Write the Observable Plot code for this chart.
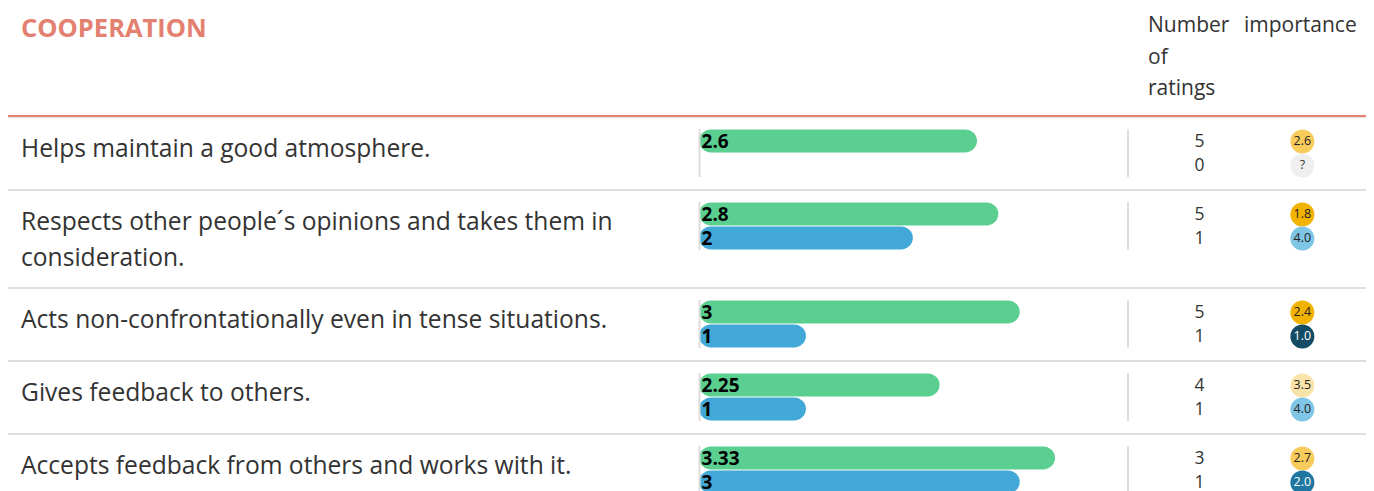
<!DOCTYPE html>
<html>
<head>
<meta charset="utf-8">
<script src="https://cdn.jsdelivr.net/npm/d3@7"></script>
<script src="https://cdn.jsdelivr.net/npm/@observablehq/plot@0.6"></script>
<style>
  body { margin: 8px; font-family: "Open Sans", "Noto Sans", sans-serif; color: #333; background: #fff; }
  #wrap { width: 1360px; }
  .header { display: flex; height: 107px; border-bottom: 2px solid #ea8070; box-sizing: content-box; }
  .title { width: 1119px; padding-left: 13px; padding-top: 2px; font-size: 25.5px; font-weight: 700; color: #e3806f; }
  .hn { width: 80px; padding-left: 8px; padding-right: 8px; font-size: 21px; line-height: 31.5px; padding-top: 1px; }
  .hi { padding-left: 8px; font-size: 21px; line-height: 31.5px; padding-top: 1px; }
  #rows { border-top: 1px solid #e2e2e2; }
  .row { display: flex; border-bottom: 2px solid #dedede; padding-top: 11px; padding-bottom: 12px; }
  .label { width: 676px; padding-left: 13px; padding-top: 1px; font-size: 24.6px; line-height: 36px; box-sizing: content-box; }
  .bars { width: 431px; }
  .nums { border-left: 2px solid #dedede; height: 48px; }
  svg { display: block; }
</style>
</head>
<body>
<div id="wrap">
  <div class="header">
    <div class="title" id="title"></div>
    <div class="hn" id="hn"></div>
    <div class="hi" id="hi"></div>
  </div>
  <div id="rows"></div>
</div>
<script>
// ---- data ----
const sectionTitle = "COOPERATION";
const headerCount = "Number of ratings";
const headerImportance = "importance";
const items = [
  "Helps maintain a good atmosphere.",
  "Respects other people´s opinions and takes them in consideration.",
  "Acts non-confrontationally even in tense situations.",
  "Gives feedback to others.",
  "Accepts feedback from others and works with it."
];
const seriesKeys = ["self", "other"];
const selfScores = [2.6, 2.8, 3, 2.25, 3.33];
const otherScores = [null, 2, 1, 1, 3];
const selfCounts = [5, 5, 5, 4, 3];
const otherCounts = [0, 1, 1, 1, 1];
const selfImportance = [2.6, 1.8, 2.4, 3.5, 2.7];
const otherImportance = [null, 4.0, 1.0, 4.0, 2.0];
const barColors = ["#5acf90", "#41a8d8"];
const goldLevels = ["#d99a00", "#f1b300", "#f7cc5c", "#fae3a9"];
const blueLevels = ["#134b64", "#1f77a1", "#43a3d0", "#7fc5e5"];
const missingColor = "#efefef";

// ---- scales ----
const goldScale = Plot.scale({color: {type: "threshold", domain: [1.5, 2.5, 3.5], range: goldLevels}});
const blueScale = Plot.scale({color: {type: "threshold", domain: [1.5, 2.5, 3.5], range: blueLevels}});
const blueText = Plot.scale({color: {type: "threshold", domain: [2.5], range: ["#ffffff", "#222222"]}});

document.getElementById("title").textContent = sectionTitle;
document.getElementById("hn").textContent = headerCount;
document.getElementById("hi").textContent = headerImportance;

const rowsEl = document.getElementById("rows");
items.forEach((label, i) => {
  const row = document.createElement("div");
  row.className = "row";
  const lab = document.createElement("div");
  lab.className = "label";
  lab.textContent = label;
  row.appendChild(lab);

  const barData = [
    {series: "self", value: selfScores[i]},
    {series: "other", value: otherScores[i]}
  ].filter(d => d.value != null);

  const barPlot = Plot.plot({
    width: 431, height: 48,
    marginLeft: 2, marginRight: 1, marginTop: 0, marginBottom: 0,
    x: {domain: [0, 4], axis: null},
    y: {type: "band", domain: seriesKeys, axis: null, padding: 0},
    color: {domain: seriesKeys, range: barColors},
    style: {fontFamily: "'Open Sans', sans-serif", overflow: "visible"},
    marks: [
      Plot.barX(barData, {x: "value", y: "series", fill: "series", rx: 12, insetTop: 0.5, insetBottom: 0.5}),
      Plot.text(barData, {x: 0, y: "series", text: d => String(d.value), textAnchor: "start", dx: 2, fontWeight: "bold", fontSize: 19, fill: "#000"}),
      Plot.ruleX([0], {stroke: "#dcdcdc", strokeWidth: 2})
    ]
  });
  const bw = document.createElement("div");
  bw.className = "bars";
  bw.appendChild(barPlot);
  row.appendChild(bw);

  const numData = [
    {series: "self", n: selfCounts[i], imp: selfImportance[i]},
    {series: "other", n: otherCounts[i], imp: otherImportance[i]}
  ];
  const impFill = d => d.imp == null ? missingColor : (d.series === "self" ? goldScale.apply(d.imp) : blueScale.apply(d.imp));
  const impText = d => d.imp == null ? "#333" : (d.series === "self" ? "#222" : blueText.apply(d.imp));
  const numPlot = Plot.plot({
    width: 239, height: 48,
    margin: 0,
    x: {type: "point", domain: ["n", "imp"], range: [70, 173], padding: 0, axis: null},
    y: {type: "band", domain: seriesKeys, axis: null, padding: 0},
    color: {type: "identity"},
    style: {fontFamily: "'Open Sans', sans-serif", overflow: "visible"},
    marks: [
      Plot.text(numData, {x: () => "n", y: "series", text: d => String(d.n), fontSize: 17.5, fill: "#333"}),
      Plot.dot(numData, {x: () => "imp", y: "series", r: 12, fill: impFill, stroke: "none"}),
      Plot.text(numData, {x: () => "imp", y: "series", text: d => d.imp == null ? "?" : d.imp.toFixed(1), fontSize: 12.5, fill: impText})
    ]
  });
  const nw = document.createElement("div");
  nw.className = "nums";
  nw.appendChild(numPlot);
  row.appendChild(nw);

  rowsEl.appendChild(row);
});
</script>
</body>
</html>
